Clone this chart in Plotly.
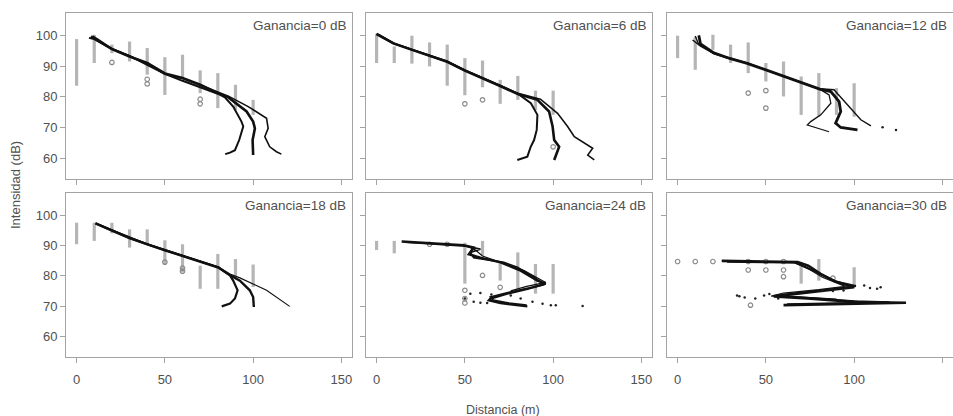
import plotly.graph_objects as go

# ---------------- data ----------------
GAINS = ["Ganancia=0 dB", "Ganancia=6 dB", "Ganancia=12 dB",
         "Ganancia=18 dB", "Ganancia=24 dB", "Ganancia=30 dB"]
DIST = [0, 10, 20, 30, 40, 50, 60, 70, 80, 90, 100]
X_TICKS = [0, 50, 100, 150]
Y_TICKS = [60, 70, 80, 90, 100]

# measurement columns (grey circles): low / high per distance
P0_LO = [83.6, 91.0, 94.2, 91.5, 87.2, 80.6, 86.1, 81.2, 76.3, 75.7, 74.1]
P0_HI = [98.8, 100.2, 97.0, 98.0, 95.9, 92.9, 93.7, 88.6, 87.7, 83.9, 79.0]
P1_LO = [91.0, 91.0, 90.8, 89.9, 83.6, 80.5, 83.1, 77.7, 79.0, 75.7, 74.1]
P1_HI = [100.5, 96.4, 99.9, 97.7, 97.0, 92.6, 91.8, 85.5, 86.8, 82.0, 82.0]
P2_LO = [92.6, 88.8, 95.3, 91.0, 87.7, 85.0, 80.1, 74.1, 73.5, 74.1, 73.5]
P2_HI = [99.9, 99.5, 100.2, 97.0, 97.7, 91.0, 91.5, 86.6, 87.7, 82.8, 84.4]
P3_LO = [90.4, 91.5, 94.0, 89.3, 90.4, 83.9, 81.1, 75.7, 75.7, 79.0, 76.3]
P3_HI = [97.5, 97.5, 97.5, 95.3, 95.3, 91.7, 90.4, 83.3, 87.2, 85.5, 83.7]
P4_COLD = [0, 10, 50, 60, 70, 80, 90, 100]
P4_LO = [88.5, 87.4, 77.4, 86.6, 78.4, 75.2, 74.1, 74.1]
P4_HI = [91.5, 91.5, 90.9, 91.5, 84.4, 87.7, 83.9, 83.9]
P5_COLD = [70, 80, 100]
P5_LO = [77.4, 78.4, 76.2]
P5_HI = [84.4, 85.5, 82.8]

# isolated grey circles
P0_OUT_X = [20, 40, 40, 70, 70]
P0_OUT_Y = [91.2, 85.7, 84.2, 79.2, 77.7]
P1_OUT_X = [50, 60, 100]
P1_OUT_Y = [77.7, 79.0, 63.7]
P2_OUT_X = [40, 50, 50]
P2_OUT_Y = [81.2, 82.0, 76.3]
P3_OUT_X = [50, 60, 60]
P3_OUT_Y = [84.5, 82.5, 81.5]
P4_OUT_X = [30, 40, 50, 50, 50, 60, 70]
P4_OUT_Y = [90.4, 90.4, 75.2, 72.5, 71.0, 80.1, 76.2]
P5_OUT_X = [0, 10, 20, 40, 40, 50, 50, 60, 60, 60, 41.3, 88]
P5_OUT_Y = [84.7, 84.7, 84.7, 84.7, 81.9, 84.7, 81.9, 84.7, 81.9, 79.7, 70.3, 79.2]

# black curves
P0_A_X = [7, 10, 20, 30, 40, 50, 60, 70, 80, 84, 88.7, 93.4, 94.4, 92.1, 89.7, 86.9, 84.2]
P0_A_Y = [99.2, 98.8, 95.6, 93.3, 90.4, 87.5, 85.2, 83.2, 81.0, 79.8, 76.8, 71.9, 70.3, 65.9, 62.6, 61.8, 61.3]
P0_B_X = [8, 10, 20, 30, 40, 50, 60, 70, 80, 86, 96.3, 100, 101, 99.7, 100]
P0_B_Y = [99.6, 99.0, 95.5, 93.1, 91.0, 87.6, 86.1, 83.9, 81.2, 79.8, 75.2, 71.9, 69.7, 65.9, 61.0]
P0_C_X = [9, 12, 20, 30, 40, 50, 60, 70, 80, 86, 97.2, 107.6, 108.5, 106.6, 109.4, 113.2, 116]
P0_C_Y = [99.8, 98.8, 95.7, 93.2, 90.8, 87.4, 86.0, 83.8, 81.4, 80.2, 76.8, 73.0, 69.7, 67.0, 63.7, 62.1, 61.3]

P1_A_X = [0, 5, 9.5, 20.5, 30, 40, 50, 60, 70, 80, 87.4, 91.1, 90.7, 89.2, 87.3, 85.4, 79.7]
P1_A_Y = [100.6, 99.0, 97.5, 95.3, 93.5, 91.5, 88.6, 86.2, 83.6, 81.0, 77.9, 74.1, 69.2, 65.9, 63.7, 60.5, 59.4]
P1_B_X = [0, 5, 9.5, 20.5, 30, 40, 50, 60, 70, 80, 91.1, 97.7, 99.7, 100.6, 103.4, 100.6]
P1_B_Y = [100.4, 98.8, 97.4, 95.2, 93.4, 91.4, 88.5, 86.1, 83.5, 80.9, 79.0, 75.2, 70.3, 65.9, 63.7, 59.4]
P1_C_X = [1, 6, 10, 20.5, 30, 40, 50, 60, 70, 80, 92.8, 102.5, 108.2, 112, 117.7, 122.4, 119.6, 123.3]
P1_C_Y = [100.3, 98.6, 97.3, 95.3, 93.5, 91.5, 88.7, 86.3, 83.7, 81.1, 79.2, 74.6, 70.3, 67.0, 64.8, 63.2, 61.0, 59.4]

P2_A_X = [10, 12, 20.5, 30, 39.4, 50, 60.2, 70, 80.5, 85.8, 86.8, 81.1, 75.4, 73.5, 79.2, 85.8]
P2_A_Y = [99.8, 97.0, 94.2, 92.5, 91.0, 88.7, 86.6, 84.6, 82.5, 80.6, 77.9, 74.1, 71.9, 70.8, 69.7, 68.6]
P2_B_X = [12, 13, 20.5, 30, 39.4, 50, 60.2, 70, 80.5, 86.8, 91.5, 92.4, 89.5, 92.4, 101.9]
P2_B_Y = [100.0, 97.2, 94.3, 92.4, 90.9, 88.7, 86.5, 84.5, 82.5, 81.7, 78.4, 75.2, 71.4, 70.0, 69.2]
P2_C_X = [8.5, 13, 20.5, 30, 39.4, 50, 60.2, 70, 80.5, 88.6, 96.2, 103.8, 109.5]
P2_C_Y = [98.5, 96.5, 94.1, 92.3, 91.0, 88.8, 86.7, 84.7, 82.6, 82.3, 77.4, 72.5, 70.5]
P2_DOT_X = [116.1, 123.7]
P2_DOT_Y = [70.1, 69.2]

P3_A_X = [10.7, 14, 20.1, 30, 39.9, 50, 60.2, 70, 80.3, 86.9, 88.7, 91.2, 89.7, 86.9, 82.2]
P3_A_Y = [97.3, 96.5, 95.0, 92.5, 90.4, 88.5, 86.6, 84.8, 82.8, 80.1, 78.4, 75.2, 72.5, 70.8, 69.9]
P3_B_X = [10.7, 14, 20.1, 30, 39.9, 50, 60.2, 70, 80.3, 86.9, 92.5, 98.1, 100, 100.4]
P3_B_Y = [97.3, 96.4, 94.9, 92.4, 90.3, 88.4, 86.5, 84.7, 82.7, 80.2, 78.4, 75.2, 73.0, 69.7]
P3_C_X = [12, 20.1, 30, 39.9, 50, 60.2, 70, 80.3, 86.9, 92.5, 107.6, 120.7]
P3_C_Y = [97.0, 95.1, 92.6, 90.5, 88.6, 86.7, 84.9, 82.9, 80.6, 79.3, 75.2, 69.9]

P4_A_X = [14.2, 30.4, 49.3, 55, 52.2, 58.8, 70.2, 81.6, 91.1, 95.8, 85.4, 74, 64.5, 63.6, 70.2, 85.4]
P4_A_Y = [91.3, 90.7, 90.1, 89.3, 87.1, 86.0, 84.4, 81.7, 78.4, 77.4, 75.7, 74.1, 72.5, 71.9, 71.0, 69.9]
P4_B_X = [16, 35, 50.3, 58.8, 53.1, 55, 72.1, 79.7, 88, 94.9, 87.3, 75, 64.5, 66, 75, 85]
P4_B_Y = [91.1, 90.5, 89.8, 88.8, 87.7, 86.0, 84.4, 82.8, 80.0, 77.1, 76.0, 74.5, 73.0, 72.0, 71.0, 70.3]
P4_C_X = [50, 56, 60, 72, 83.5, 95.8, 85, 76]
P4_C_Y = [90.0, 88.5, 86.5, 84.0, 81.7, 77.8, 76.5, 75.0]
P4_DOT_X = [50, 53.1, 58.8, 65, 76, 81.6, 88.3, 94, 98.7, 101.5, 55, 58.8, 62.6, 116.7]
P4_DOT_Y = [72.5, 74.1, 74.3, 73.8, 73.5, 72.5, 71.4, 70.8, 70.3, 70.3, 71.4, 71.1, 71.0, 70.0]

P5_A_X = [25, 40, 60, 68, 74, 81, 89, 100, 85, 68, 54.5, 73.5, 102, 129.4, 92, 60]
P5_A_Y = [84.9, 84.8, 84.7, 84.5, 83.3, 80.6, 78.2, 76.2, 75.2, 74.1, 73.2, 72.5, 71.3, 71.1, 70.8, 70.3]
P5_B_X = [28, 50, 66, 72, 80, 90, 101, 88, 70, 56, 75, 100, 120, 95, 62]
P5_B_Y = [84.6, 84.6, 84.4, 83.0, 80.8, 78.0, 76.6, 75.6, 74.5, 73.4, 72.7, 71.6, 71.3, 71.0, 70.6]
P5_C_X = [30, 65, 75, 82, 95, 80, 60, 53, 70, 90]
P5_C_Y = [84.7, 84.6, 82.0, 79.5, 76.5, 75.4, 74.3, 73.3, 73.0, 72.3]
P5_DOT_X = [33.7, 35, 38, 44, 49, 52, 57, 105.7, 109, 113, 115, 82, 88, 94]
P5_DOT_Y = [73.5, 73.2, 72.8, 72.5, 73.5, 74.0, 72.5, 76.8, 76.0, 75.7, 76.2, 75.0, 75.0, 75.1]

PANELS = [
    dict(cd=DIST, lo=P0_LO, hi=P0_HI, ox=P0_OUT_X, oy=P0_OUT_Y,
         curves=[(P0_A_X, P0_A_Y, 2.0), (P0_B_X, P0_B_Y, 2.6), (P0_C_X, P0_C_Y, 1.6)], dots=None),
    dict(cd=DIST, lo=P1_LO, hi=P1_HI, ox=P1_OUT_X, oy=P1_OUT_Y,
         curves=[(P1_A_X, P1_A_Y, 2.0), (P1_B_X, P1_B_Y, 2.6), (P1_C_X, P1_C_Y, 1.6)], dots=None),
    dict(cd=DIST, lo=P2_LO, hi=P2_HI, ox=P2_OUT_X, oy=P2_OUT_Y,
         curves=[(P2_A_X, P2_A_Y, 1.3), (P2_B_X, P2_B_Y, 2.8), (P2_C_X, P2_C_Y, 1.4)], dots=(P2_DOT_X, P2_DOT_Y)),
    dict(cd=DIST, lo=P3_LO, hi=P3_HI, ox=P3_OUT_X, oy=P3_OUT_Y,
         curves=[(P3_A_X, P3_A_Y, 2.2), (P3_B_X, P3_B_Y, 2.4), (P3_C_X, P3_C_Y, 1.2)], dots=None),
    dict(cd=P4_COLD, lo=P4_LO, hi=P4_HI, ox=P4_OUT_X, oy=P4_OUT_Y,
         curves=[(P4_A_X, P4_A_Y, 2.4), (P4_B_X, P4_B_Y, 1.8), (P4_C_X, P4_C_Y, 1.2)], dots=(P4_DOT_X, P4_DOT_Y)),
    dict(cd=P5_COLD, lo=P5_LO, hi=P5_HI, ox=P5_OUT_X, oy=P5_OUT_Y,
         curves=[(P5_A_X, P5_A_Y, 2.6), (P5_B_X, P5_B_Y, 2.0), (P5_C_X, P5_C_Y, 1.2)], dots=(P5_DOT_X, P5_DOT_Y)),
]

# ---------------- layout geometry ----------------
W, H = 953, 416
ML, MR, MT, MB = 66, 0, 13, 59
PW, PH = W - ML - MR, H - MT - MB
COLS = [(66, 352), (366, 652), (667, 953)]
ROWS = [(13, 179), (193, 357)]
GREY = "#a3a3a3"
TXT = "#505050"
FONT = "Liberation Sans, Arial, sans-serif"


def xdom(a, b):
    return [(a - ML) / PW, (b - ML) / PW]


def ydom(a, b):
    return [(H - MB - b) / PH, (H - MB - a) / PH]


fig = go.Figure()
layout = dict(width=W, height=H, margin=dict(l=ML, r=MR, t=MT, b=MB),
              paper_bgcolor="white", plot_bgcolor="white", showlegend=False,
              font=dict(family=FONT, color=TXT, size=12))
annotations = []

for i, p in enumerate(PANELS):
    r, c = divmod(i, 3)
    n = i + 1
    xa = "x" if n == 1 else f"x{n}"
    ya = "y" if n == 1 else f"y{n}"
    xkey = "xaxis" if n == 1 else f"xaxis{n}"
    ykey = "yaxis" if n == 1 else f"yaxis{n}"
    layout[xkey] = dict(domain=xdom(*COLS[c]), anchor=ya, range=[-6, 156],
                        tickvals=X_TICKS, ticks="outside", ticklen=5, tickcolor=GREY,
                        showline=True, mirror=True, linecolor=GREY, linewidth=1,
                        showgrid=False, zeroline=False, showticklabels=(r == 1),
                        ticklabelstandoff=5,
                        tickfont=dict(size=13, color=TXT, family=FONT))
    layout[ykey] = dict(domain=ydom(*ROWS[r]), anchor=xa, range=[53.2, 107.3],
                        tickvals=Y_TICKS, ticks="outside", ticklen=5, tickcolor=GREY,
                        showline=True, mirror=True, linecolor=GREY, linewidth=1,
                        showgrid=False, zeroline=False, showticklabels=(c == 0),
                        tickfont=dict(size=13, color=TXT, family=FONT))

    # grey measurement columns
    cx, cy = [], []
    for d, lo, hi in zip(p["cd"], p["lo"], p["hi"]):
        cx += [d, d, None]
        cy += [lo, hi, None]
    fig.add_trace(go.Scatter(x=cx, y=cy, mode="lines", xaxis=xa, yaxis=ya,
                             line=dict(color="#b5b5b5", width=3.2), hoverinfo="skip"))
    fig.add_trace(go.Scatter(x=p["ox"], y=p["oy"], mode="markers", xaxis=xa, yaxis=ya,
                             marker=dict(symbol="circle-open", size=4.5, color="#8a8a8a",
                                         line=dict(width=1.2)), hoverinfo="skip"))
    # black curves
    for (xs, ys, wdt) in p["curves"]:
        fig.add_trace(go.Scatter(x=xs, y=ys, mode="lines", xaxis=xa, yaxis=ya,
                                 line=dict(color="#111111", width=wdt), hoverinfo="skip"))
    if p["dots"] is not None:
        fig.add_trace(go.Scatter(x=p["dots"][0], y=p["dots"][1], mode="markers",
                                 xaxis=xa, yaxis=ya,
                                 marker=dict(size=2.5, color="#222222"), hoverinfo="skip"))

    annotations.append(dict(text=GAINS[i], xref=f"{xa} domain", yref=f"{ya} domain",
                            x=1, y=1, xanchor="right", yanchor="top", xshift=-4, yshift=-3,
                            showarrow=False, font=dict(size=13.5, color=TXT, family=FONT)))

# axis titles
annotations.append(dict(text="Intensidad (dB)", xref="paper", yref="paper",
                        x=(15 - ML) / PW, y=(H - MB - 185) / PH, textangle=-90,
                        xanchor="center", yanchor="middle", showarrow=False,
                        font=dict(size=13, color=TXT, family=FONT)))
annotations.append(dict(text="Distancia (m)", xref="paper", yref="paper",
                        x=(503 - ML) / PW, y=(H - MB - 410) / PH,
                        xanchor="center", yanchor="middle", showarrow=False,
                        font=dict(size=12.5, color=TXT, family=FONT)))
layout["annotations"] = annotations
fig.update_layout(**layout)
fig.write_html("out.html")
